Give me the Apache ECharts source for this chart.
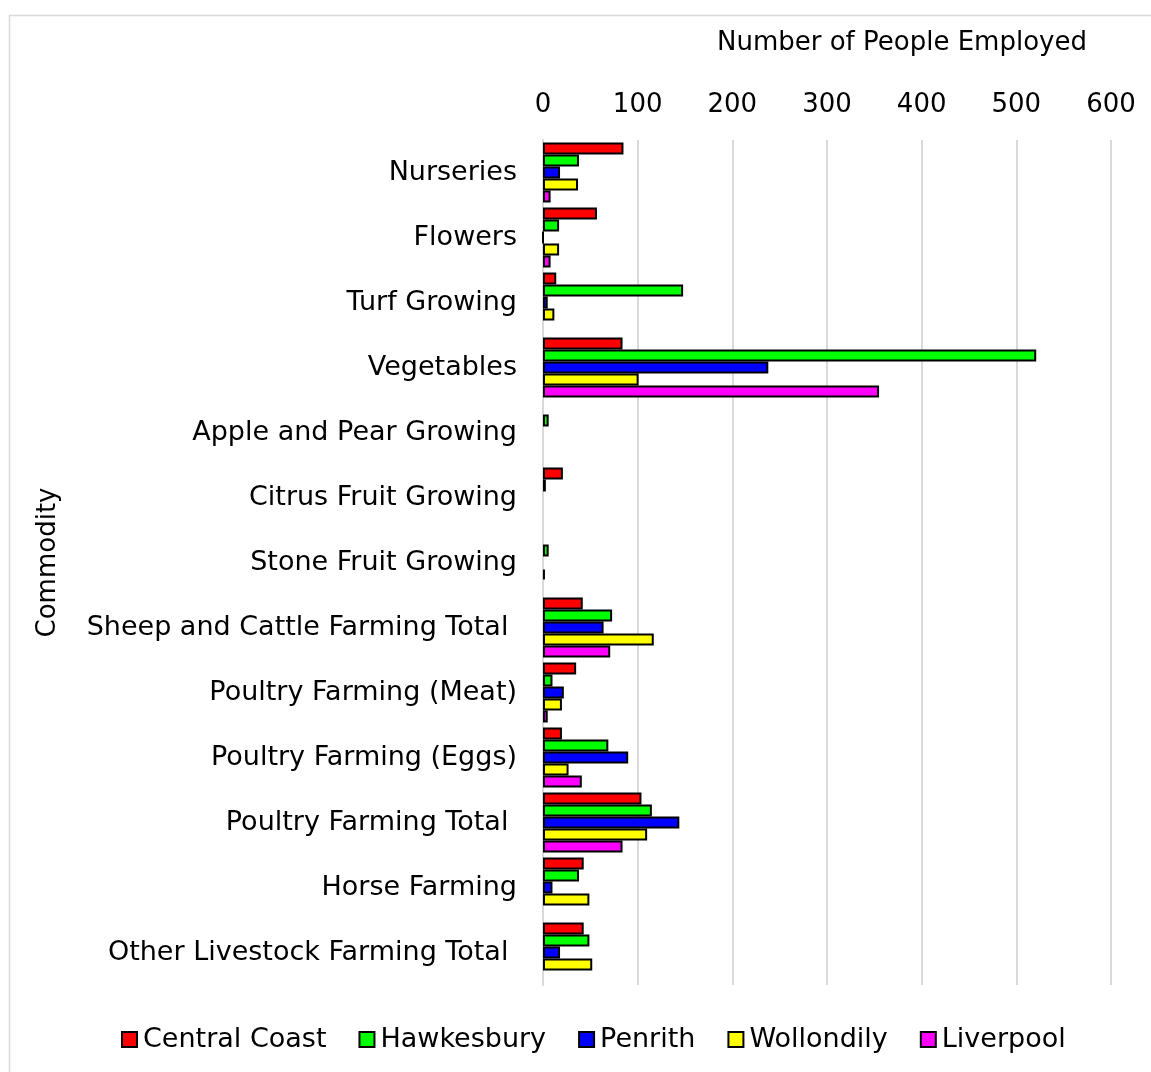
<!DOCTYPE html>
<html>
<head>
<meta charset="utf-8">
<script src="https://cdn.jsdelivr.net/npm/echarts@6/dist/echarts.min.js"></script>
<style>html,body{margin:0;padding:0;background:#fff}#c{width:1151px;height:1072px}</style>
</head>
<body>
<div id="c"></div>
<script>
const categories = ["Nurseries","Flowers","Turf Growing","Vegetables","Apple and Pear Growing","Citrus Fruit Growing","Stone Fruit Growing","Sheep and Cattle Farming Total ","Poultry Farming (Meat)","Poultry Farming (Eggs)","Poultry Farming Total ","Horse Farming","Other Livestock Farming Total "];
const seriesNames = ["Central Coast","Hawkesbury","Penrith","Wollondily","Liverpool"];
const centralCoast = [85, 57, 14, 84, '-', 21, '-', 42, 35, 20, 104, 43, 43];
const hawkesbury   = [38, 17, 148, 521, 6, 3, 6, 73, 10, 69, 115, 38, 49];
const penrith      = [18, 0, 5, 238, '-', '-', '-', 64, 22, 90, 144, 10, 18];
const wollondily   = [37, 17, 12, 101, '-', '-', 2, 117, 20, 27, 110, 49, 52];
const liverpool    = [8, 8, '-', 355, '-', '-', '-', 71, 5, 41, 84, '-', '-'];
const xTicks = [0, 600, 100];
const colors = ["#FF0000","#00FF00","#0000FF","#FFFF00","#FF00FF"];

const FONT = "DejaVu Sans";
const allData = [centralCoast, hawkesbury, penrith, wollondily, liverpool];
const chart = echarts.init(document.getElementById('c'), null, {renderer:'canvas'});
chart.setOption({
  animation: false,
  backgroundColor: '#fff',
  textStyle: {fontFamily: FONT},
  graphic: [
    {type:'rect', shape:{x:9.5, y:15.5, width:1200, height:1200}, style:{fill:'none', stroke:'#d9d9d9', lineWidth:1.5}, silent:true, z:-1},
    {type:'text', left:717, top:30, style:{text:'Number of People Employed', font:'26px "DejaVu Sans"', fill:'#000'}}
  ],
  grid: {left:543, right:40, top:140, bottom:87, containLabel:false},
  legend: {
    bottom: 14, left: 116,
    icon: 'rect',
    itemWidth: 15, itemHeight: 15, itemGap: 32,
    textStyle: {fontFamily: FONT, fontSize: 27, color:'#000', padding:[0,0,0,1]},
    data: seriesNames
  },
  xAxis: {
    type:'value', position:'top', min:xTicks[0], max:xTicks[1], interval:xTicks[2],
    axisLine:{show:false}, axisTick:{show:false},
    axisLabel:{fontFamily:FONT, fontSize:26, color:'#000', margin:22},
    splitLine:{show:true, lineStyle:{color:'#d9d9d9', width:2}}
  },
  yAxis: {
    type:'category', inverse:true, data:categories,
    name:'Commodity', nameLocation:'middle', nameGap:482, nameRotate:90,
    nameTextStyle:{fontFamily:FONT, fontSize:26, color:'#000'},
    axisLine:{show:true, lineStyle:{color:'#d9d9d9', width:2}},
    axisTick:{show:false},
    axisLabel:{fontFamily:FONT, fontSize:27, color:'#000', margin:26}
  },
  series: seriesNames.map((n,i)=>({
    name:n, type:'bar', data:allData[i],
    barWidth:12, barGap:'0%',
    itemStyle:{color:colors[i], borderColor:'#000', borderWidth:2}
  }))
});
</script>
</body>
</html>
